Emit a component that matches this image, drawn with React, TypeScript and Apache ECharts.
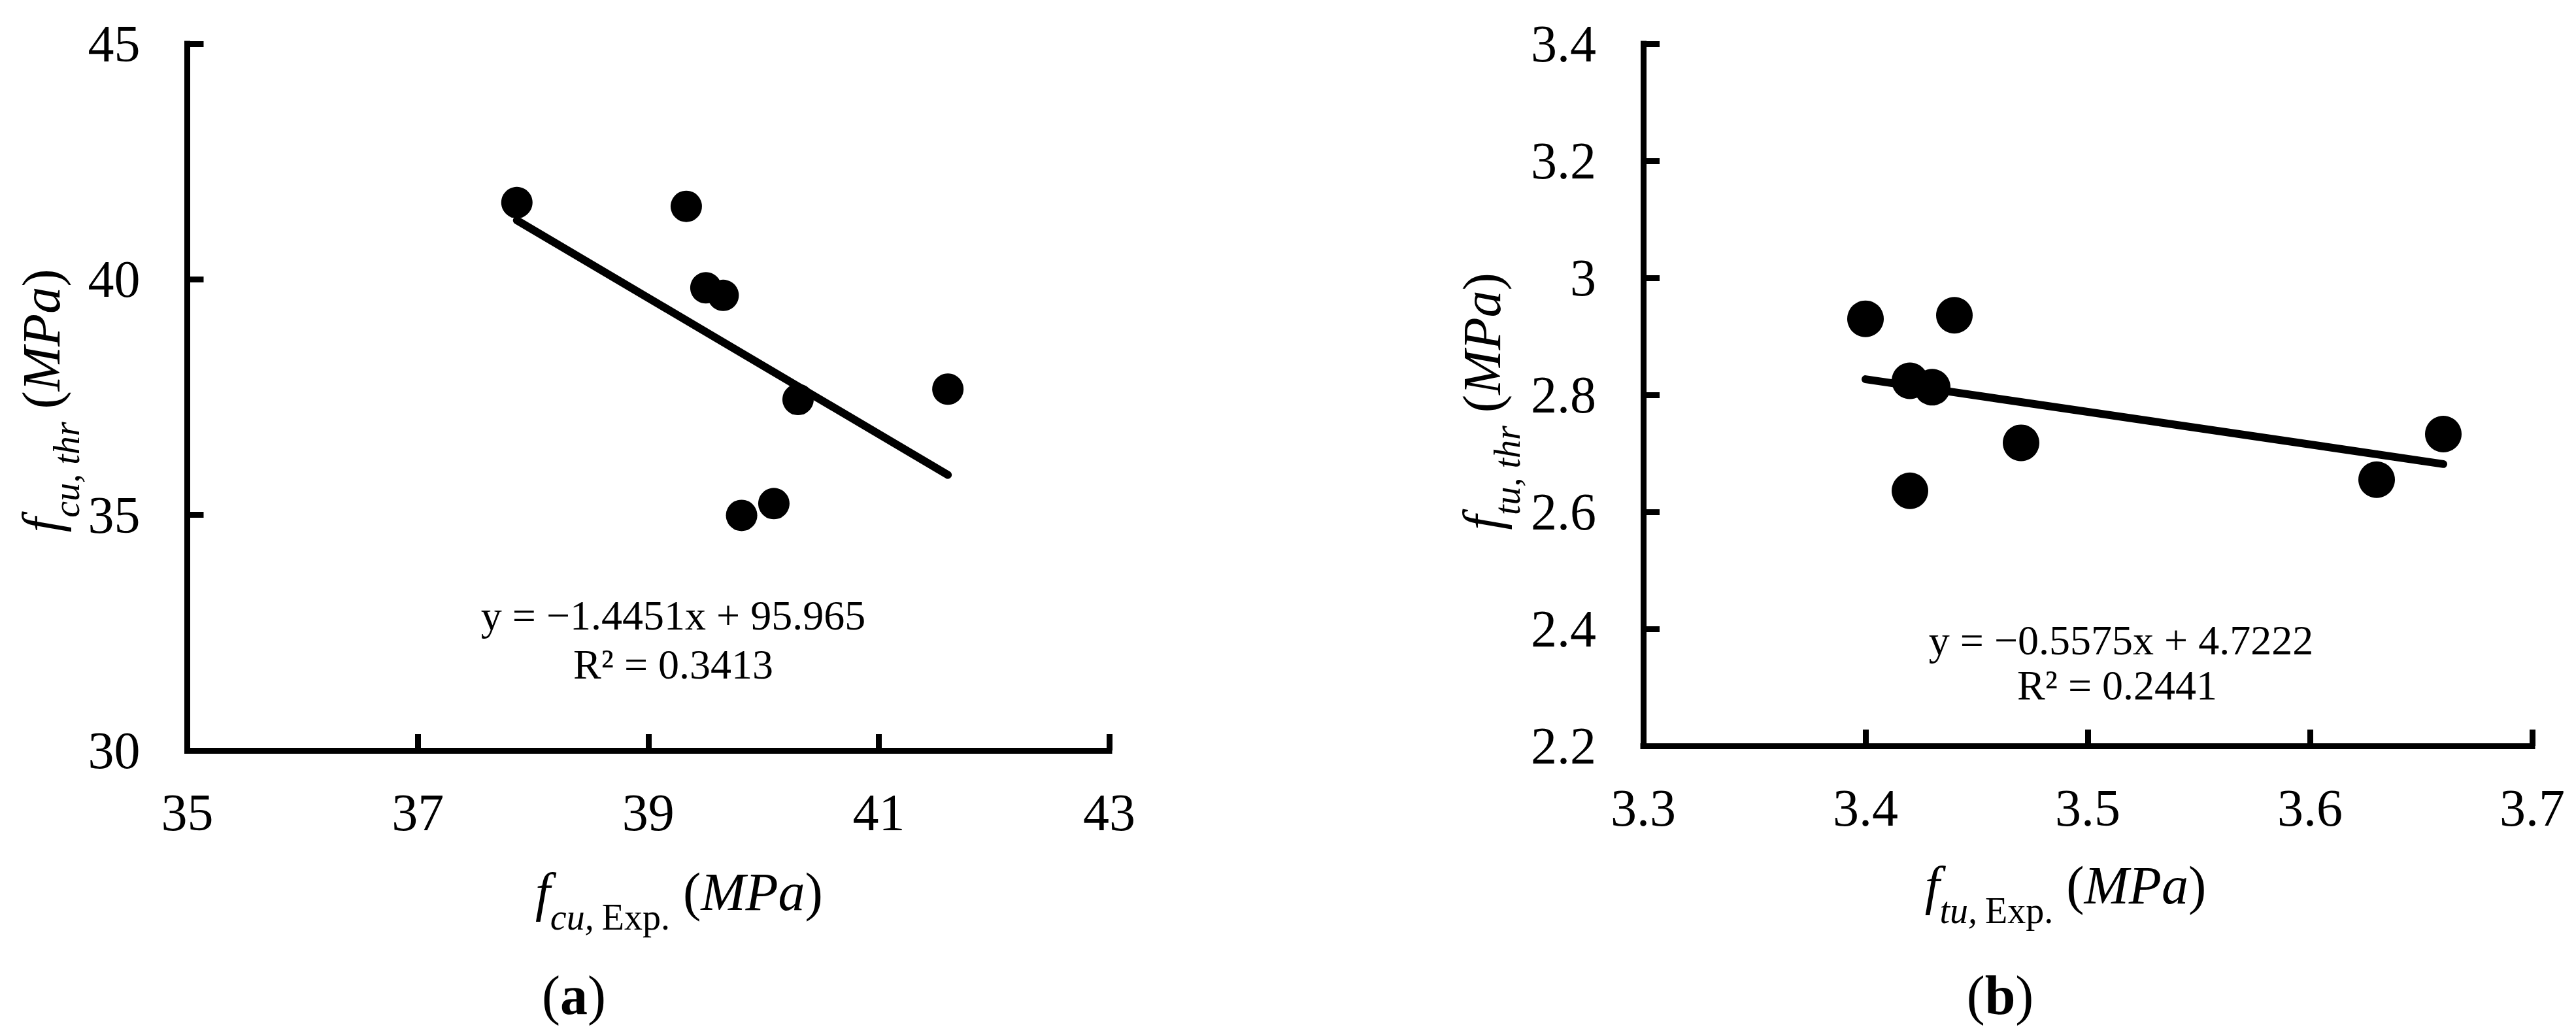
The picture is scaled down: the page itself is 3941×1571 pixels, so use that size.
import React, { useEffect, useRef } from "react";
import * as echarts from "echarts";

// ---------- data ----------
const leftExp = [37.86, 39.33, 39.5, 39.65, 40.3, 41.6, 39.81, 40.09];
const leftThr = [41.63, 41.55, 39.82, 39.66, 37.45, 37.67, 34.99, 35.24];
const leftSlope = -1.4451;
const leftIntercept = 95.965;
const leftEquation = ["y = \u22121.4451x + 95.965", "R\u00B2 = 0.3413"];
const leftXRange = [35, 43, 2];
const leftYRange = [30, 45, 5];

const rightExp = [3.4, 3.44, 3.42, 3.43, 3.47, 3.42, 3.63, 3.66];
const rightThr = [2.93, 2.936, 2.824, 2.813, 2.718, 2.636, 2.655, 2.733];
const rightSlope = -0.5575;
const rightIntercept = 4.7222;
const rightEquation = ["y = \u22120.5575x + 4.7222", "R\u00B2 = 0.2441"];
const rightXRange = [3.3, 3.7, 0.1];
const rightYRange = [2.2, 3.4, 0.2];

const panelLabels = ["a", "b"];
const xTitleSubs = ["cu,", "tu,"];
const yTitleSubs = ["cu, thr", "tu, thr"];

// ---------- styling ----------
const FONT = "Liberation Serif, Times New Roman, Times, serif";
const MAIN = 82;
const SUB = 56;

const pairs = (xs: number[], ys: number[]) => xs.map((x, i) => [x, ys[i]]);
const trend = (xs: number[], m: number, b: number) => {
  const lo = Math.min(...xs);
  const hi = Math.max(...xs);
  return [
    [lo, m * lo + b],
    [hi, m * hi + b],
  ];
};

const richTitle = {
  f: { fontFamily: FONT, fontSize: MAIN, fontStyle: "italic", fill: "#000", verticalAlign: "top" },
  sub: { fontFamily: FONT, fontSize: SUB, fontStyle: "italic", fill: "#000", verticalAlign: "top", padding: [52, 0, 0, 0] },
  subn: { fontFamily: FONT, fontSize: SUB, fill: "#000", verticalAlign: "top", padding: [52, 0, 0, 12] },
  po: { fontFamily: FONT, fontSize: MAIN, fill: "#000", verticalAlign: "top", padding: [0, 0, 0, 20] },
  it: { fontFamily: FONT, fontSize: MAIN, fontStyle: "italic", fill: "#000", verticalAlign: "top" },
  pc: { fontFamily: FONT, fontSize: MAIN, fill: "#000", verticalAlign: "top" },
};

const richPanel = {
  p: { fontFamily: FONT, fontSize: 84, fill: "#000" },
  b: { fontFamily: FONT, fontSize: 84, fontWeight: "bold", fill: "#000" },
};

function textEl(x: number, y: number, text: string, extra: any = {}, rotation = 0) {
  return {
    type: "text",
    x,
    y,
    rotation,
    silent: true,
    style: {
      text,
      fill: "#000",
      fontFamily: FONT,
      fontSize: 64,
      align: "center",
      verticalAlign: "middle",
      textAlign: "center",
      textVerticalAlign: "middle",
      ...extra,
    },
  };
}

function axis(range: number[], isX: boolean, gridIndex: number) {
  return {
    type: "value",
    gridIndex,
    min: range[0],
    max: range[1],
    interval: range[2],
    axisLine: { show: true, onZero: false, lineStyle: { color: "#000", width: 9, cap: "square" } },
    axisTick: { show: true, inside: true, length: 25, lineStyle: { color: "#000", width: 9 } },
    splitLine: { show: false },
    axisLabel: {
      color: "#000",
      fontFamily: FONT,
      fontSize: 80,
      margin: isX ? 55 : 72,
    },
  };
}

export default function App() {
  const ref = useRef<HTMLDivElement>(null);
  useEffect(() => {
    if (!ref.current) return;
    const chart = echarts.init(ref.current, null, { renderer: "svg" });
    const option: any = {
      animation: false,
      backgroundColor: "#fff",
      grid: [
        { left: 286.5, top: 67, width: 1410.5, height: 1081 },
        { left: 2514, top: 67, width: 1360, height: 1074 },
      ],
      xAxis: [axis(leftXRange, true, 0), axis(rightXRange, true, 1)],
      yAxis: [axis(leftYRange, false, 0), axis(rightYRange, false, 1)],
      series: [
        {
          type: "line",
          xAxisIndex: 0,
          yAxisIndex: 0,
          data: trend(leftExp, leftSlope, leftIntercept),
          symbol: "none",
          lineStyle: { color: "#000", width: 12, cap: "round", opacity: 1 },
          z: 2,
        },
        {
          type: "scatter",
          xAxisIndex: 0,
          yAxisIndex: 0,
          data: pairs(leftExp, leftThr),
          symbol: "circle",
          symbolSize: 48,
          itemStyle: { color: "#000", opacity: 1 },
          z: 3,
        },
        {
          type: "line",
          xAxisIndex: 1,
          yAxisIndex: 1,
          data: trend(rightExp, rightSlope, rightIntercept),
          symbol: "none",
          lineStyle: { color: "#000", width: 12, cap: "round", opacity: 1 },
          z: 2,
        },
        {
          type: "scatter",
          xAxisIndex: 1,
          yAxisIndex: 1,
          data: pairs(rightExp, rightThr),
          symbol: "circle",
          symbolSize: 56,
          itemStyle: { color: "#000", opacity: 1 },
          z: 3,
        },
      ],
      graphic: [
        textEl(1030, 941, leftEquation[0]),
        textEl(1030, 1016, leftEquation[1]),
        textEl(3245, 979, rightEquation[0]),
        textEl(3239, 1048, rightEquation[1]),
        textEl(1039, 1377, `{f|f}{sub|${xTitleSubs[0]}}{subn|Exp.}{po|(}{it|MPa}{pc|)}`, { rich: richTitle }),
        textEl(3160, 1367, `{f|f}{sub|${xTitleSubs[1]}}{subn|Exp.}{po|(}{it|MPa}{pc|)}`, { rich: richTitle }),
        textEl(76, 613, `{f|f}{sub|${yTitleSubs[0]}}{po|(}{it|MPa}{pc|)}`, { rich: richTitle }, Math.PI / 2),
        textEl(2280, 614, `{f|f}{sub|${yTitleSubs[1]}}{po|(}{it|MPa}{pc|)}`, { rich: richTitle }, Math.PI / 2),
        textEl(878, 1522, `{p|(}{b|${panelLabels[0]}}{p|)}`, { rich: richPanel }),
        textEl(3060, 1522, `{p|(}{b|${panelLabels[1]}}{p|)}`, { rich: richPanel }),
      ],
    };
    chart.setOption(option);
    return () => chart.dispose();
  }, []);
  return (
    <div
      ref={ref}
      style={{ position: "absolute", left: 0, top: 0, width: 3941, height: 1571, background: "#fff" }}
    />
  );
}
